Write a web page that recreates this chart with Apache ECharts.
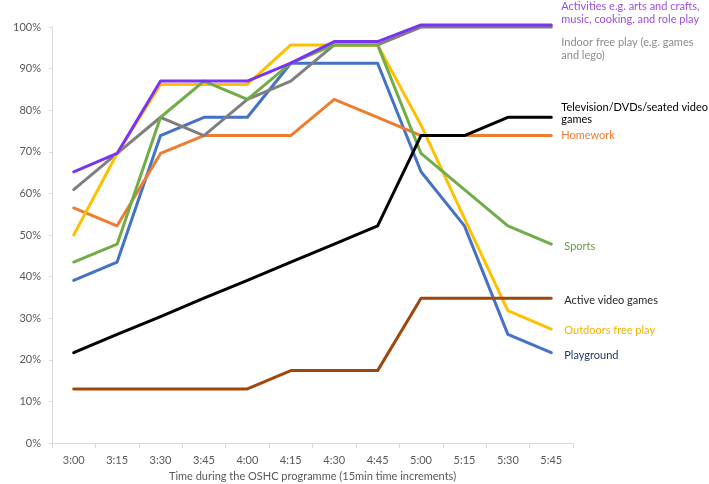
<!DOCTYPE html>
<html>
<head>
<meta charset="utf-8">
<script src="https://cdn.jsdelivr.net/npm/echarts@6/dist/echarts.min.js"></script>
<style>html,body{margin:0;padding:0;background:#fff}#c{width:709px;height:484px}</style>
</head>
<body>
<div id="c"></div>
<script>
const categories = ['3:00','3:15','3:30','3:45','4:00','4:15','4:30','4:45','5:00','5:15','5:30','5:45'];
const yTicks = [0,10,20,30,40,50,60,70,80,90,100];

const playground   = [39.1,43.5,73.9,78.3,78.3,91.3,91.3,91.3,65.2,52.2,26.1,21.7];
const homework     = [56.5,52.2,69.6,73.9,73.9,73.9,82.6,78.3,73.9,73.9,73.9,73.9];
const indoorPlay   = [60.9,69.6,78.3,73.9,82.6,87.0,95.7,95.7,100,100,100,100];
const outdoorsPlay = [50.0,69.6,86.2,86.2,86.2,95.7,95.7,95.7,76.4,54.0,31.8,27.4];
const sports       = [43.5,47.8,78.3,87.0,82.6,91.3,95.7,95.7,69.6,60.9,52.2,47.8];
const activities   = [65.2,69.6,87.0,87.0,87.0,91.3,96.5,96.5,100.5,100.5,100.5,100.5];
const television   = [21.7,26.1,30.4,34.8,39.1,43.5,47.8,52.2,73.9,73.9,78.3,78.3];
const activeVideo  = [13.0,13.0,13.0,13.0,13.0,17.4,17.4,17.4,34.8,34.8,34.8,34.8];

const FONT = 'Lato, "Open Sans", sans-serif';

function mk(name, label, data, color, textColor, offsetY, dist) {
  return {
    name: name, type: 'line', data: data, showSymbol: false, symbol: 'none',
    clip: false, smooth: false,
    lineStyle: { color: color, width: 3, cap: 'round', join: 'round' },
    itemStyle: { color: color },
    endLabel: {
      show: true, formatter: label, color: textColor, fontFamily: FONT,
      fontSize: 11, lineHeight: 12.5, align: 'left', verticalAlign: 'middle',
      distance: dist, offset: [0, offsetY]
    },
    emphasis: { disabled: true }
  };
}

const chart = echarts.init(document.getElementById('c'), null, { renderer: 'canvas' });
chart.setOption({
  animation: false,
  backgroundColor: '#ffffff',
  grid: { left: 52, right: 136, top: 27, bottom: 41, containLabel: false, outerBoundsMode: 'none' },
  xAxis: {
    type: 'category', data: categories, boundaryGap: true,
    name: 'Time during the OSHC programme (15min time increments)',
    nameLocation: 'middle', nameGap: 27,
    nameTextStyle: { color: '#595959', fontSize: 11, fontFamily: FONT },
    axisLine: { lineStyle: { color: '#d9d9d9', width: 1 } },
    axisTick: { show: true, length: 5, lineStyle: { color: '#d9d9d9' }, alignWithLabel: false },
    axisLabel: { color: '#595959', fontSize: 11, fontFamily: FONT, margin: 12 },
    splitLine: { show: false }
  },
  yAxis: {
    type: 'value', min: yTicks[0], max: yTicks[yTicks.length-1], interval: 10,
    name: '% of OSHC services', nameLocation: 'middle', nameGap: 42, nameRotate: 90,
    nameTextStyle: { color: '#595959', fontSize: 11, fontFamily: FONT },
    axisLine: { show: true, lineStyle: { color: '#d9d9d9', width: 1 } },
    axisTick: { show: true, length: 3, lineStyle: { color: '#d9d9d9' } },
    axisLabel: { color: '#595959', fontSize: 11, fontFamily: FONT, margin: 11, formatter: '{value}%' },
    splitLine: { show: false }
  },
  series: [
    mk('Playground', 'Playground', playground, '#4472C4', '#203864', 3, 13),
    mk('Homework', 'Homework', homework, '#ED7D31', '#ED7D31', 0, 10),
    mk('Indoor', 'Indoor free play (e.g. games\nand lego)', indoorPlay, '#7f7f7f', '#8c8c8c', 22, 10),
    mk('Outdoors', 'Outdoors free play', outdoorsPlay, '#FFC000', '#F2B400', 1.5, 13),
    mk('Sports', 'Sports', sports, '#70AD47', '#6a9e40', 2, 13),
    mk('Activities', 'Activities e.g. arts and crafts,\nmusic, cooking, and role play', activities, '#7a33f2', '#9b4ee6', -12, 10),
    mk('Television', 'Television/DVDs/seated video\ngames', television, '#000000', '#000000', -4, 10),
    mk('Active', 'Active video games', activeVideo, '#9E480E', '#262626', 2, 13)
  ]
});
</script>
</body>
</html>
